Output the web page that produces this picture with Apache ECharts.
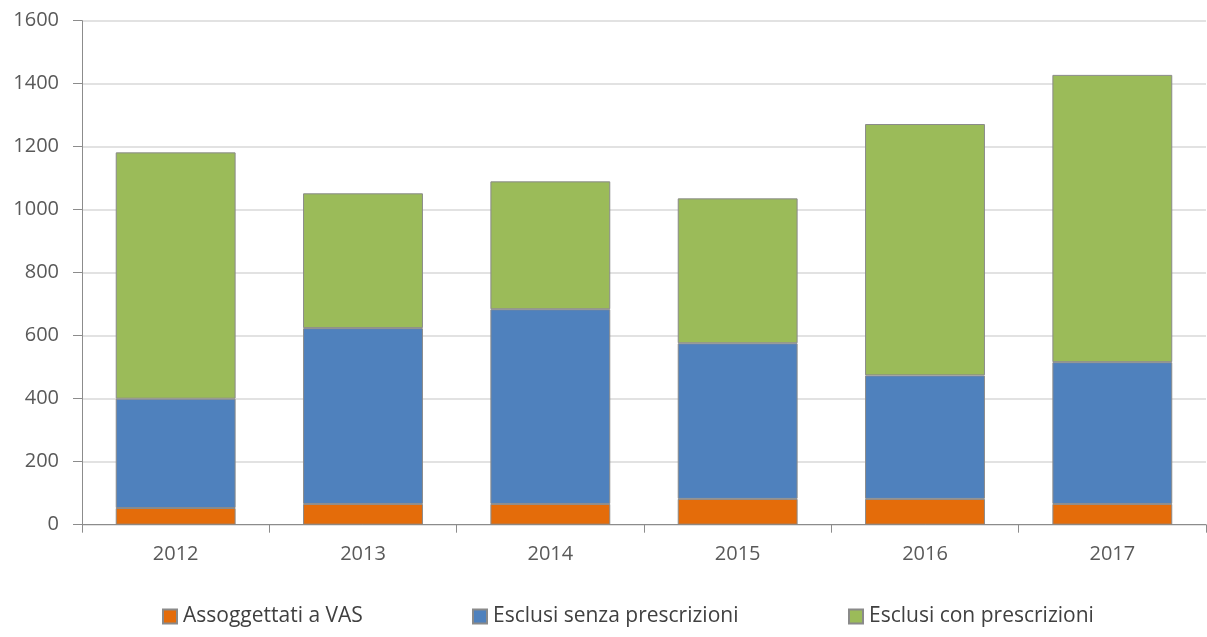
<!DOCTYPE html>
<html>
<head>
<meta charset="utf-8">
<script src="https://cdn.jsdelivr.net/npm/echarts@6/dist/echarts.min.js"></script>
<style>
html,body{margin:0;padding:0;background:#fff;}
#chart{width:1207px;height:637px;}
</style>
</head>
<body>
<div id="chart"></div>
<script>
const categories = ['2012', '2013', '2014', '2015', '2016', '2017'];
const seriesNames = ['Assoggettati a VAS', 'Esclusi senza prescrizioni', 'Esclusi con prescrizioni'];
const assoggettati = [53, 66, 66, 82, 82, 66];
const esclusiSenza = [347, 558, 618, 494, 392, 450];
const esclusiCon = [782, 428, 406, 460, 798, 912];
const yTicks = { min: 0, max: 1600, interval: 200 };

const colors = ['#E46C0A', '#4F81BD', '#9BBB59'];
const fontFamily = '"Open Sans", "Noto Sans", sans-serif';
const seriesData = [assoggettati, esclusiSenza, esclusiCon];
const legendLefts = [157, 467, 843];

const chart = echarts.init(document.getElementById('chart'));
chart.setOption({
  animation: false,
  backgroundColor: '#ffffff',
  grid: { left: 82, right: 1, top: 20.7, bottom: 112.3, containLabel: false },
  legend: seriesNames.map((name, i) => ({
    top: 601,
    left: legendLefts[i],
    icon: 'rect',
    itemWidth: 14,
    itemHeight: 14,
    itemGap: 0,
    textStyle: { fontFamily: fontFamily, fontSize: 21, color: '#404040', padding: [0, 0, 0, 1] },
    data: [name]
  })),
  xAxis: {
    type: 'category',
    data: categories,
    axisLine: { lineStyle: { color: '#8c8c8c', width: 1 } },
    axisTick: { show: true, length: 8, alignWithLabel: false, lineStyle: { color: '#8c8c8c' } },
    axisLabel: { fontFamily: fontFamily, fontSize: 20, color: '#595959', margin: 20 }
  },
  yAxis: {
    type: 'value',
    min: yTicks.min,
    max: yTicks.max,
    interval: yTicks.interval,
    axisLine: { show: true, lineStyle: { color: '#8c8c8c', width: 1 } },
    axisTick: { show: true, length: 9, lineStyle: { color: '#8c8c8c' } },
    axisLabel: { fontFamily: fontFamily, fontSize: 20, color: '#595959', margin: 23, formatter: v => String(v) },
    splitLine: { lineStyle: { color: '#d9d9d9', width: 1.5 } }
  },
  series: seriesNames.map((name, i) => ({
    name: name,
    type: 'bar',
    stack: 'total',
    data: seriesData[i],
    barWidth: '64%',
    itemStyle: { color: colors[i], borderColor: '#8a8a8a', borderWidth: 1 }
  }))
});
</script>
</body>
</html>
